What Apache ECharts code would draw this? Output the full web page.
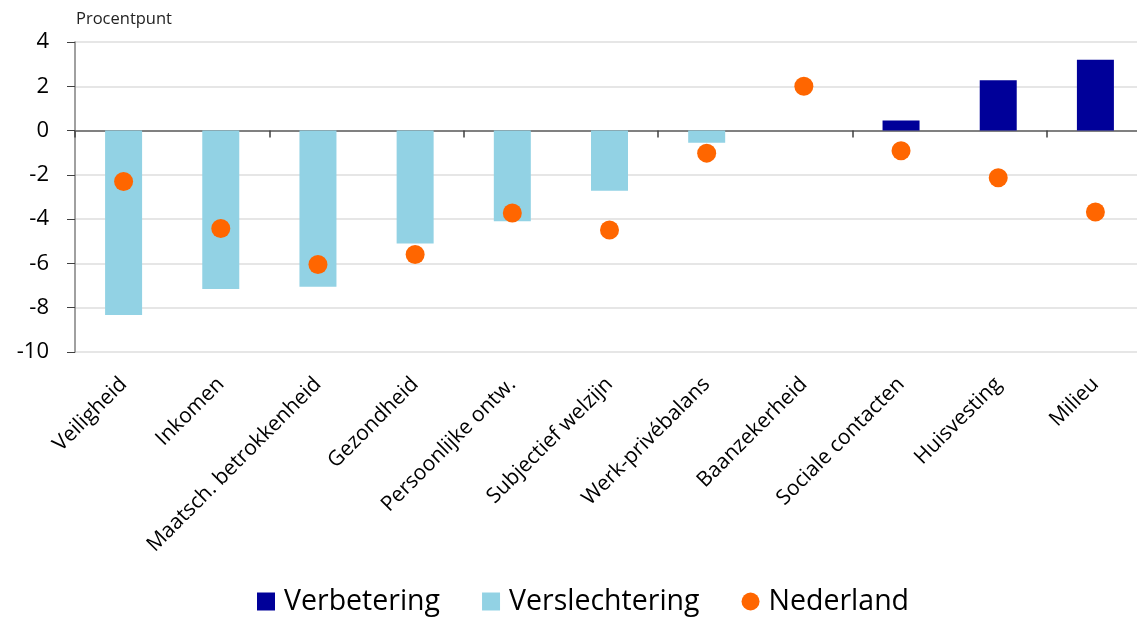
<!DOCTYPE html>
<html>
<head>
<meta charset="utf-8">
<script src="https://cdn.jsdelivr.net/npm/echarts@6/dist/echarts.min.js"></script>
<style>
  html, body { margin: 0; padding: 0; background: #fff; overflow: hidden; }
  /* plot runs a few pixels past the right edge, as in the original */
  #chart { width: 1144px; height: 621px; }
</style>
</head>
<body>
<div id="chart"></div>
<script>
// categorieën en waarden (procentpunt)
var categories = ['Veiligheid', 'Inkomen', 'Maatsch. betrokkenheid', 'Gezondheid', 'Persoonlijke ontw.',
  'Subjectief welzijn', 'Werk-privébalans', 'Baanzekerheid', 'Sociale contacten', 'Huisvesting', 'Milieu'];
var verbetering = [null, null, null, null, null, null, null, null, 0.45, 2.27, 3.2];
var verslechtering = [-8.33, -7.15, -7.05, -5.1, -4.1, -2.72, -0.55, null, null, null, null];
var nederland = [-2.3, -4.42, -6.05, -5.6, -3.72, -4.49, -1.02, 2.0, -0.91, -2.13, -3.68];
var yTicks = { min: -10, max: 4, interval: 2 };

var font = 'Open Sans';
var chart = echarts.init(document.getElementById('chart'));
chart.setOption({
  animation: false,
  textStyle: { fontFamily: font },
  title: {
    text: 'Procentpunt',
    left: 71, top: 6,
    textStyle: { fontSize: 16.5, fontWeight: 'normal', color: '#222', fontFamily: font }
  },
  legend: {
    bottom: 0,
    left: 252,
    itemGap: 42,
    itemWidth: 18,
    itemHeight: 18,
    textStyle: { fontSize: 28.5, color: '#000', fontFamily: font, padding: [0, 0, 0, 4] },
    data: [
      { name: 'Verbetering', icon: 'rect' },
      { name: 'Verslechtering', icon: 'rect' },
      { name: 'Nederland', icon: 'circle' }
    ]
  },
  grid: { left: 75, right: 0, top: 42, bottom: 269 },
  xAxis: [
    {
      type: 'category',
      data: categories,
      axisLine: { onZero: true, lineStyle: { color: '#808080', width: 2 } },
      axisTick: { show: true, length: 7, lineStyle: { color: '#404040', width: 1.5 } },
      axisLabel: { show: false },
      splitLine: { show: false }
    },
    {
      type: 'category',
      data: categories,
      position: 'bottom',
      axisLine: { show: false },
      axisTick: { show: false },
      axisLabel: { rotate: 45, fontSize: 21, color: '#000', margin: 29, interval: 0, fontFamily: font }
    }
  ],
  yAxis: {
    type: 'value',
    min: yTicks.min, max: yTicks.max, interval: yTicks.interval,
    axisLine: { show: true, lineStyle: { color: '#808080', width: 1.5 } },
    axisTick: { show: true, length: 8, lineStyle: { color: '#404040' } },
    axisLabel: { fontSize: 22, color: '#000', margin: 26, fontFamily: font },
    splitLine: { lineStyle: { color: '#e6e6e6', width: 2 } }
  },
  series: [
    {
      name: 'Verbetering',
      type: 'bar',
      barWidth: 37,
      barGap: '-100%',
      itemStyle: { color: '#000099' },
      data: verbetering
    },
    {
      name: 'Verslechtering',
      type: 'bar',
      barWidth: 37,
      itemStyle: { color: '#92d2e4' },
      data: verslechtering
    },
    {
      name: 'Nederland',
      type: 'scatter',
      symbol: 'circle',
      symbolSize: 19,
      itemStyle: { color: '#ff6600', opacity: 1 },
      z: 5,
      data: nederland
    }
  ]
});
</script>
</body>
</html>
